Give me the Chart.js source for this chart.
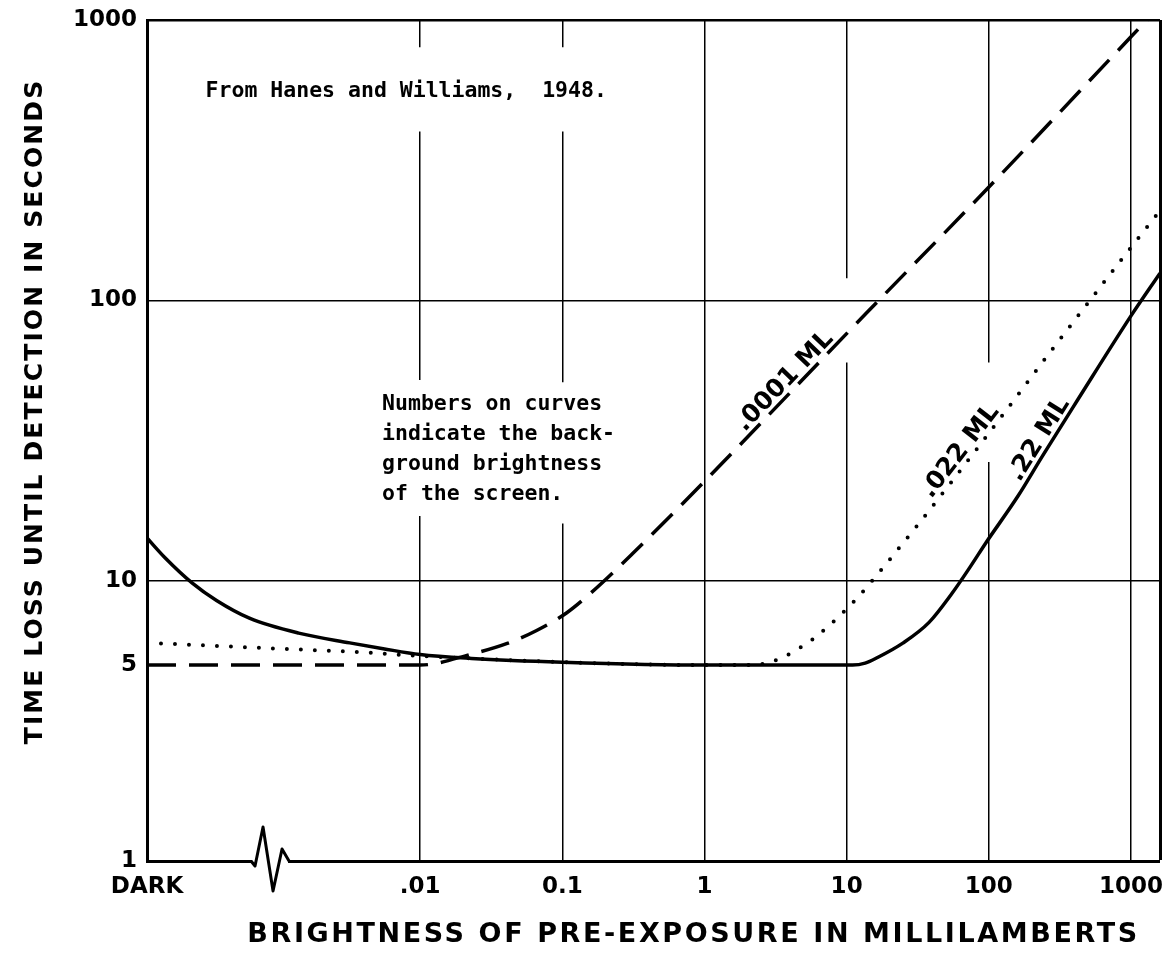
<!DOCTYPE html>
<html>
<head>
<meta charset="utf-8">
<title>Time loss until detection vs. brightness of pre-exposure</title>
<script src="https://cdn.jsdelivr.net/npm/chart.js@4.4.1/dist/chart.umd.min.js"></script>
<style>
  html, body { margin: 0; padding: 0; background: #fff; }
  #wrap { width: 1168px; height: 958px; }
</style>
</head>
<body>
<div id="wrap"><canvas id="detectionChart" width="1168" height="958"></canvas></div>
<script>
// where "DARK" sits on the brightness axis, and the axis ends
var DARK = 0.00012;
var X_MAX = 1600;
var BREAK_AT = 0.00088; // axis break between DARK and .01

var xTickValues = [DARK, 0.01, 0.1, 1, 10, 100, 1000];
var xTickLabels = ['DARK', '.01', '0.1', '1', '10', '100', '1000'];
var yTickValues = [1, 5, 10, 100, 1000];
var yTickLabels = ['1', '5', '10', '100', '1000'];

// .22 ML background (solid curve)
var bright22 = [DARK, 0.00016, 0.00025, 0.00037, 0.00063, 0.0014, 0.0032, 0.0055, 0.01, 0.023, 0.1, 1, 11, 13.5, 16.5, 25, 38, 55, 74, 95, 160, 240, 420, 1000, 1600];
var time22 = [14.2, 12.1, 9.8, 8.5, 7.35, 6.5, 6.0, 5.72, 5.45, 5.28, 5.12, 5.0, 5.0, 5.08, 5.32, 6.0, 7.1, 9.0, 11.2, 13.6, 20, 28, 44, 88, 125];

// .022 ML background (dotted curve)
var bright022 = [DARK, 0.001, 0.004, 0.008, 0.023, 0.1, 1, 2.2, 2.75, 3.5, 4.4, 5.8, 7.2, 8.7, 10.7, 12.6, 15.7, 19.7, 25, 31, 91, 270, 870, 1600];
var time022 = [6.0, 5.72, 5.55, 5.42, 5.28, 5.12, 5.0, 5.0, 5.09, 5.31, 5.65, 6.19, 6.78, 7.4, 8.2, 8.97, 10.23, 11.75, 13.65, 15.6, 31.5, 65.3, 141, 209];

// .0001 ML background (dashed curve)
var bright0001 = [DARK, 0.01, 0.023, 0.041, 0.066, 0.107, 0.158, 0.31, 1, 14, 96, 1000, 1600];
var time0001 = [5.0, 5.0, 5.47, 5.97, 6.64, 7.67, 9.02, 12.45, 22.6, 90.8, 248, 871, 1120];

// brightness at which each curve is lettered (same order as datasets)
var curveLabelAt = [265, 73, 4.2];

var xTitle = 'BRIGHTNESS OF PRE-EXPOSURE IN MILLILAMBERTS';
var yTitle = 'TIME LOSS UNTIL DETECTION IN SECONDS';
var sourceNote = 'From Hanes and Williams,  1948.';
var sourceNoteAt = [0.00031, 532];
var legendNote = ['Numbers on curves', 'indicate the back-', 'ground brightness', 'of the screen.'];
var legendNoteAt = [0.0054, 40.6];

// stretches of vertical grid left blank around the lettering (y value ranges)
var gapAtX = [0.01, 0.1, 10, 100];
var gapRanges = [[[800, 400], [52, 17]], [[800, 400], [51, 16]], [[120, 60]], [[60, 26.5]]];

function pts(xs, ys) {
  return xs.map(function (x, i) { return { x: x, y: ys[i] }; });
}

function gridDash(c) {
  if (!c.tick) return [];
  var k = gapAtX.indexOf(c.tick.value);
  if (k < 0) return [];
  var ys = c.chart.scales.y, top = c.chart.chartArea.top;
  var dash = [], cur = 0;
  gapRanges[k].forEach(function (g) {
    var a = ys.getPixelForValue(g[0]) - top, b = ys.getPixelForValue(g[1]) - top;
    dash.push(a - cur, b - a);
    cur = b;
  });
  dash.push(2000, 0);
  return dash;
}

// tall line box on x labels pushes them down; short one on y keeps the top edge at 20px
var tickFontX = { family: 'DejaVu Sans', size: 23, weight: 'bold', lineHeight: 1.56 };
var tickFontY = { family: 'DejaVu Sans', size: 23, weight: 'bold', lineHeight: 0.8 };

// lettering on curves and the two typed notes
var notesPlugin = {
  id: 'notes',
  afterDatasetsDraw: function (chart) {
    var ctx = chart.ctx, xs = chart.scales.x, ys = chart.scales.y;
    ctx.save();
    ctx.fillStyle = '#000';
    ctx.font = 'bold 25px "DejaVu Sans"';
    ctx.textAlign = 'center';
    ctx.textBaseline = 'alphabetic';
    chart.data.datasets.forEach(function (ds, i) {
      var p = chart.getDatasetMeta(i).data;
      var px = xs.getPixelForValue(curveLabelAt[i]);
      for (var j = 0; j < p.length - 1; j++) {
        if (p[j].x <= px && p[j + 1].x >= px) {
          var t = (px - p[j].x) / (p[j + 1].x - p[j].x);
          var py = p[j].y + t * (p[j + 1].y - p[j].y);
          var ang = Math.atan2(p[j + 1].y - p[j].y, p[j + 1].x - p[j].x);
          ctx.save();
          ctx.translate(px, py);
          ctx.rotate(ang);
          ctx.fillText(ds.label, 0, -5);
          ctx.restore();
          break;
        }
      }
    });

    ctx.font = 'bold 21.5px "DejaVu Sans Mono"';
    ctx.textAlign = 'left';
    ctx.fillText(sourceNote, xs.getPixelForValue(sourceNoteAt[0]), ys.getPixelForValue(sourceNoteAt[1]));
    var lx = xs.getPixelForValue(legendNoteAt[0]), ly = ys.getPixelForValue(legendNoteAt[1]);
    legendNote.forEach(function (line, i) {
      ctx.fillText(line, lx, ly + i * 30);
    });
    ctx.restore();
  }
};

// axis titles, lettered wide like the original
var axisTitlesPlugin = {
  id: 'axisTitles',
  afterDraw: function (chart) {
    var ctx = chart.ctx, a = chart.chartArea;
    ctx.save();
    ctx.fillStyle = '#000';
    ctx.textAlign = 'center';
    ctx.textBaseline = 'middle';
    ctx.letterSpacing = '2.6px';
    ctx.font = 'bold 27px "DejaVu Sans"';
    ctx.fillText(xTitle, (a.left + a.right) / 2 + 40, 935);
    ctx.translate(35, (a.top + a.bottom) / 2 - 29);
    ctx.rotate(-Math.PI / 2);
    ctx.letterSpacing = '2.1px';
    ctx.font = 'bold 25px "DejaVu Sans"';
    ctx.fillText(yTitle, 0, 0);
    ctx.restore();
  }
};

// zigzag break on the brightness axis
var breakPlugin = {
  id: 'axisBreak',
  afterDraw: function (chart) {
    var ctx = chart.ctx;
    var x = chart.scales.x.getPixelForValue(BREAK_AT), y = chart.chartArea.bottom;
    ctx.save();
    ctx.fillStyle = '#fff';
    ctx.fillRect(x - 18, y - 3, 36, 7);
    ctx.strokeStyle = '#000';
    ctx.lineWidth = 3;
    ctx.lineJoin = 'round';
    ctx.beginPath();
    ctx.moveTo(x - 19, y);
    ctx.lineTo(x - 15, y + 5);
    ctx.lineTo(x - 7, y - 34);
    ctx.lineTo(x + 3, y + 30);
    ctx.lineTo(x + 12, y - 12);
    ctx.lineTo(x + 19, y);
    ctx.stroke();
    ctx.restore();
  }
};

Chart.defaults.font.family = 'DejaVu Sans';
Chart.defaults.color = '#000';

var ctxD = document.getElementById('detectionChart').getContext('2d');
var detectionChart = new Chart(ctxD, {
  type: 'line',
  data: {
    datasets: [
      {
        label: '.22 ML',
        data: pts(bright22, time22),
        borderColor: '#000',
        borderWidth: 3.5,
        cubicInterpolationMode: 'monotone'
      },
      {
        label: '.022 ML',
        data: pts(bright022, time022),
        borderColor: '#000',
        borderWidth: 4,
        borderDash: [0, 14],
        borderCapStyle: 'round',
        cubicInterpolationMode: 'monotone'
      },
      {
        label: '.0001 ML',
        data: pts(bright0001, time0001),
        borderColor: '#000',
        borderWidth: 3.5,
        borderDash: [29, 13],
        cubicInterpolationMode: 'monotone'
      }
    ]
  },
  options: {
    responsive: false,
    devicePixelRatio: 1,
    animation: false,
    layout: { padding: { left: 0, top: 20, right: 8, bottom: 0 } },
    elements: { point: { radius: 0 } },
    plugins: {
      legend: { display: false },
      tooltip: { enabled: false }
    },
    scales: {
      x: {
        type: 'logarithmic',
        min: DARK,
        max: X_MAX,
        afterBuildTicks: function (s) {
          s.ticks = xTickValues.concat([X_MAX]).map(function (v) { return { value: v }; });
        },
        afterFit: function (s) { s.height = 97; },
        ticks: {
          autoSkip: false,
          maxRotation: 0,
          padding: 8,
          font: tickFontX,
          color: '#000',
          callback: function (v) {
            var i = xTickValues.indexOf(v);
            return i >= 0 ? xTickLabels[i] : '';
          }
        },
        grid: {
          drawTicks: false,
          color: function (c) { return c.tick && c.tick.value === DARK ? 'rgba(0,0,0,0)' : '#000'; },
          lineWidth: function (c) {
            if (!c.tick) return 1.5;
            if (c.tick.value === DARK) return 0;
            return c.tick.value === X_MAX ? 3 : 1.5;
          }
        },
        border: { color: '#000', width: 3, dash: gridDash }
      },
      y: {
        type: 'logarithmic',
        min: 1,
        max: 1000,
        afterBuildTicks: function (s) {
          s.ticks = yTickValues.map(function (v) { return { value: v }; });
        },
        afterFit: function (s) { s.width = 147; },
        ticks: {
          padding: 10,
          font: tickFontY,
          color: '#000',
          callback: function (v) {
            var i = yTickValues.indexOf(v);
            return i >= 0 ? yTickLabels[i] : '';
          }
        },
        grid: {
          drawTicks: false,
          color: '#000',
          lineWidth: function (c) {
            if (!c.tick) return 1.5;
            var v = c.tick.value;
            if (v === 1000) return 2.5;
            return (v === 10 || v === 100) ? 1.5 : 0;
          }
        },
        border: { color: '#000', width: 3 }
      }
    }
  },
  plugins: [notesPlugin, axisTitlesPlugin, breakPlugin]
});
</script>
</body>
</html>
